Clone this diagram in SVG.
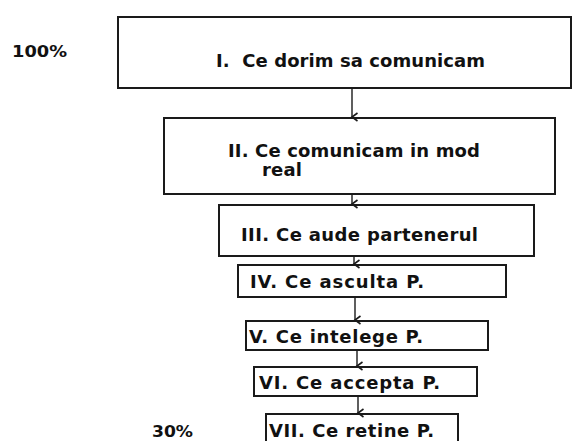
<svg xmlns="http://www.w3.org/2000/svg" width="573" height="441" viewBox="0 0 573 441">
<style>
.box{fill:#ffffff;stroke:#1a1a1a;stroke-width:2}
.t{font-family:"DejaVu Sans","Liberation Sans",sans-serif;font-weight:bold;font-size:18px;fill:#111}
.p{font-family:"DejaVu Sans","Liberation Sans",sans-serif;font-weight:bold;font-size:16px;fill:#111}
.c{stroke:#1a1a1a;stroke-width:1.4;fill:none}
</style>
<defs>
<marker id="ah" markerWidth="10" markerHeight="10" refX="5" refY="8" orient="auto-start-reverse" markerUnits="userSpaceOnUse" viewBox="0 0 10 10">
<path d="M1,2.5 L5,8 L9,2.5" fill="none" stroke="#1a1a1a" stroke-width="1.6"/>
</marker>
</defs>
<rect width="573" height="441" fill="#ffffff"/>
<text class="p" x="12" y="57" textLength="55" lengthAdjust="spacingAndGlyphs">100%</text>
<text class="p" x="152" y="437" textLength="41" lengthAdjust="spacingAndGlyphs">30%</text>
<g id="n1"><rect class="box" x="118" y="17" width="453" height="71"/><text class="t" x="216" y="67" textLength="269" xml:space="preserve">I.  Ce dorim sa comunicam</text></g>
<g id="n2"><rect class="box" x="164" y="118" width="391" height="76"/><text class="t" x="228" y="157" textLength="252">II. Ce comunicam in mod</text><text class="t" x="262" y="176" textLength="40">real</text></g>
<g id="n3"><rect class="box" x="219" y="205" width="315" height="51"/><text class="t" x="241" y="241" textLength="237">III. Ce aude partenerul</text></g>
<g id="n4"><rect class="box" x="238" y="265" width="268" height="32"/><text class="t" x="250" y="288" textLength="174">IV. Ce asculta P.</text></g>
<g id="n5"><rect class="box" x="246" y="321" width="242" height="29"/><text class="t" x="249" y="343" textLength="174">V. Ce intelege P.</text></g>
<g id="n6"><rect class="box" x="254" y="367" width="223" height="29"/><text class="t" x="259" y="389" textLength="181">VI. Ce accepta P.</text></g>
<g id="n7"><rect class="box" x="266" y="414" width="192" height="40"/><text class="t" x="269" y="437" textLength="165">VII. Ce retine P.</text></g>
<g id="connectors">
<line class="c" x1="352" y1="88" x2="352" y2="117" marker-end="url(#ah)"/>
<line class="c" x1="352" y1="194" x2="352" y2="204" marker-end="url(#ah)"/>
<line class="c" x1="354" y1="256" x2="354" y2="264" marker-end="url(#ah)"/>
<line class="c" x1="355" y1="297" x2="355" y2="320" marker-end="url(#ah)"/>
<line class="c" x1="357" y1="350" x2="357" y2="366" marker-end="url(#ah)"/>
<line class="c" x1="358" y1="396" x2="358" y2="413" marker-end="url(#ah)"/>
</g>
</svg>
